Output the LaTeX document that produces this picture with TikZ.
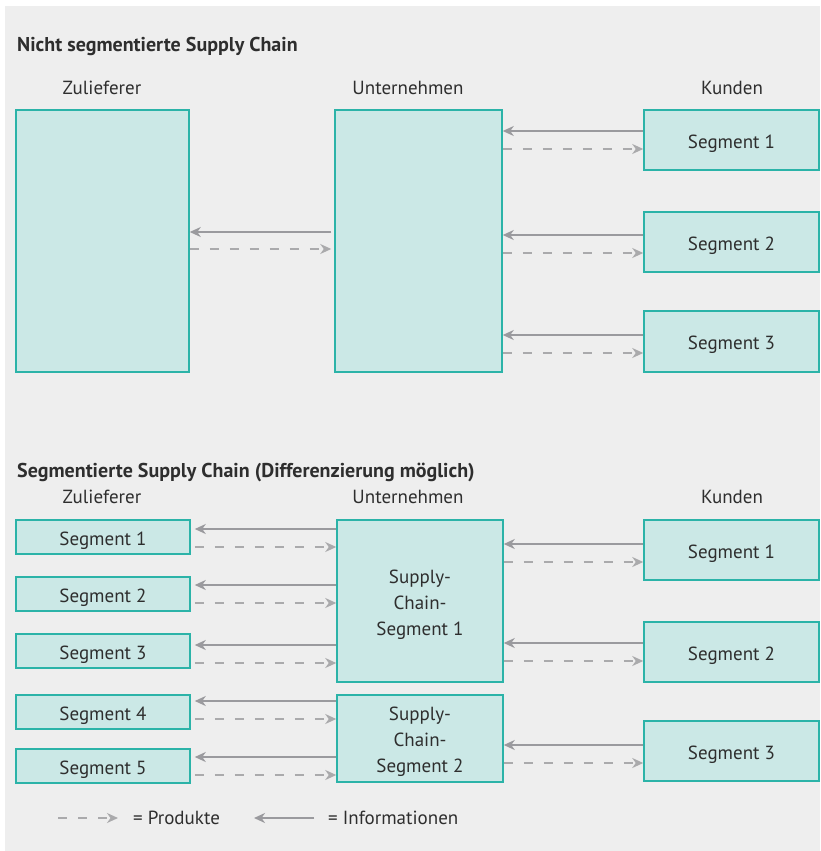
\documentclass[tikz,border=0pt]{standalone}
\usepackage{fontspec}
\setmainfont{PT Sans}
\usetikzlibrary{arrows.meta}
\definecolor{bgc}{HTML}{EEEEEE}
\definecolor{boxfill}{HTML}{CBE8E6}
\definecolor{boxline}{HTML}{2BB3A8}
\definecolor{txt}{HTML}{2E2E2E}
\definecolor{solidc}{HTML}{9A9A9E}
\definecolor{dashc}{HTML}{AAAAAC}
\begin{document}
\begin{tikzpicture}[x=1pt,y=-1pt,
  box/.style={draw=boxline, fill=boxfill, line width=1.5pt, inner sep=0pt, text=txt,
    font=\fontsize{19}{26}\selectfont, text height=16pt, text depth=0pt},
  mtext/.style={text=txt, inner sep=0pt, font=\fontsize{19}{26}\selectfont, align=center},
  lbl/.style={text=txt, font=\fontsize{19}{22}\selectfont, inner sep=0pt},
  ttl/.style={text=txt, font=\fontsize{20}{24}\selectfont\bfseries, inner sep=0pt, anchor=base west},
  tipA/.tip={Stealth[length=11pt,width=10pt,inset=3.5pt]},
  info/.style={draw=solidc, line width=2.2pt, -tipA},
  prod/.style={draw=dashc, line width=1.6pt, dash pattern=on 9pt off 11pt, -tipA}
]
\useasboundingbox (0,0) rectangle (820,851);
\fill[bgc] (5,6) rectangle (820,851);

% ---------- top section ----------
\node[ttl] (t1) at (17,52) {Nicht segmentierte Supply Chain};
\node[lbl] (h1) at (102,88) {Zulieferer};
\node[lbl] (h2) at (408,88) {Unternehmen};
\node[lbl] (h3) at (732,88) {Kunden};

\node[box, minimum width=173pt, minimum height=262pt] (zl) at (102.5,241) {};
\node[box, minimum width=167pt, minimum height=262pt] (un) at (418.5,241) {};
\node[box, minimum width=175pt, minimum height=60pt] (k1) at (731.5,140) {Segment 1};
\node[box, minimum width=175pt, minimum height=60pt] (k2) at (731.5,242) {Segment 2};
\node[box, minimum width=175pt, minimum height=61pt] (k3) at (731.5,341.5) {Segment 3};

\draw[info, shorten <=3pt] (un.west |- 0,232) -- (zl.east |- 0,232);
\draw[prod, shorten >=3pt] (zl.east |- 0,249) -- (un.west |- 0,249);

\draw[info] (k1.west |- 0,131) -- (un.east |- 0,131);
\draw[prod] (un.east |- 0,149) -- (k1.west |- 0,149);
\draw[info] (k2.west |- 0,235) -- (un.east |- 0,235);
\draw[prod] (un.east |- 0,253) -- (k2.west |- 0,253);
\draw[info] (k3.west |- 0,335) -- (un.east |- 0,335);
\draw[prod] (un.east |- 0,353) -- (k3.west |- 0,353);

% ---------- bottom section ----------
\node[ttl] (t2) at (17,477) {Segmentierte Supply Chain (Differenzierung möglich)};
\node[lbl] (g1) at (102,497) {Zulieferer};
\node[lbl] (g2) at (408,497) {Unternehmen};
\node[lbl] (g3) at (732,497) {Kunden};

\node[box, minimum width=174pt, minimum height=34pt] (z1) at (103,537) {Segment 1};
\node[box, minimum width=174pt, minimum height=34pt] (z2) at (103,594) {Segment 2};
\node[box, minimum width=174pt, minimum height=34pt] (z3) at (103,651) {Segment 3};
\node[box, minimum width=174pt, minimum height=34pt] (z4) at (103,712) {Segment 4};
\node[box, minimum width=174pt, minimum height=34pt] (z5) at (103,766) {Segment 5};

\node[box, minimum width=166pt, minimum height=162pt] (s1) at (420,601) {};
\node[mtext] (s1t) at ([yshift=-3.5pt]s1.center) {Supply-\\Chain-\\Segment 1};
\node[box, minimum width=166pt, minimum height=87pt] (s2) at (420,738.5) {};
\node[mtext] (s2t) at ([yshift=-3.5pt]s2.center) {Supply-\\Chain-\\Segment 2};

\node[box, minimum width=175pt, minimum height=60pt] (c1) at (731.5,550) {Segment 1};
\node[box, minimum width=175pt, minimum height=60pt] (c2) at (731.5,652) {Segment 2};
\node[box, minimum width=175pt, minimum height=60pt] (c3) at (731.5,751) {Segment 3};

\draw[info, shorten >=4pt] (s1.west |- 0,529) -- (z1.east |- 0,529);
\draw[prod, shorten <=4pt] (z1.east |- 0,547) -- (s1.west |- 0,547);
\draw[info, shorten >=4pt] (s1.west |- 0,585) -- (z2.east |- 0,585);
\draw[prod, shorten <=4pt] (z2.east |- 0,603) -- (s1.west |- 0,603);
\draw[info, shorten >=4pt] (s1.west |- 0,645) -- (z3.east |- 0,645);
\draw[prod, shorten <=4pt] (z3.east |- 0,663) -- (s1.west |- 0,663);
\draw[info, shorten >=4pt] (s2.west |- 0,701) -- (z4.east |- 0,701);
\draw[prod, shorten <=4pt] (z4.east |- 0,719) -- (s2.west |- 0,719);
\draw[info, shorten >=4pt] (s2.west |- 0,757) -- (z5.east |- 0,757);
\draw[prod, shorten <=4pt] (z5.east |- 0,775) -- (s2.west |- 0,775);

\draw[info] (c1.west |- 0,544) -- (s1.east |- 0,544);
\draw[prod] (s1.east |- 0,562) -- (c1.west |- 0,562);
\draw[info] (c2.west |- 0,643) -- (s1.east |- 0,643);
\draw[prod] (s1.east |- 0,661) -- (c2.west |- 0,661);
\draw[info] (c3.west |- 0,745) -- (s2.east |- 0,745);
\draw[prod] (s2.east |- 0,763) -- (c3.west |- 0,763);

% ---------- legend ----------
\coordinate (lp1) at (58,818);
\coordinate (lp2) at (118,818);
\coordinate (li1) at (314,818);
\coordinate (li2) at (254,818);
\draw[prod] (lp1) -- (lp2);
\node[lbl, anchor=west] (lpt) at (133,818) {= Produkte};
\draw[info] (li1) -- (li2);
\node[lbl, anchor=west] (lit) at (328,818) {= Informationen};
\end{tikzpicture}
\end{document}
